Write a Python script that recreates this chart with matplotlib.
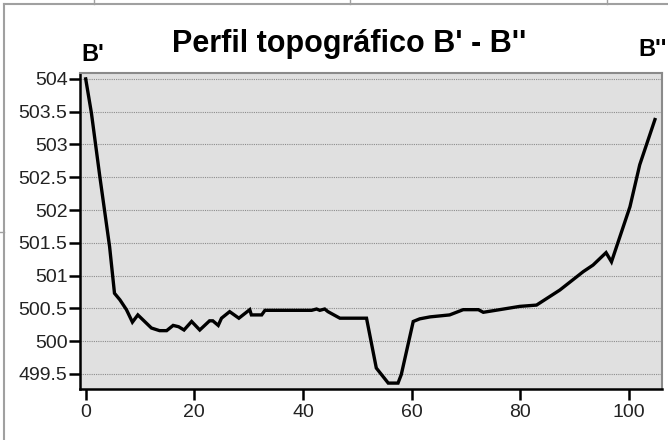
import matplotlib.pyplot as plt
from matplotlib.lines import Line2D

plt.rcParams['font.family'] = ['Liberation Sans', 'DejaVu Sans']

distancia = [0, 1.05, 2.6, 4.4, 5.3, 6.3, 7.5, 8.6, 9.6, 12.1, 13.6, 14.9, 16.1, 17.1,
             18.1, 19.5, 21.0, 22.8, 23.4, 24.4, 25.0, 26.5, 28.2, 30.2, 30.5, 32.4,
             33.0, 41.6, 42.5, 43.1, 44.0, 44.6, 46.8, 51.7, 53.5, 55.7, 57.5, 58.1,
             60.3, 61.5, 63.4, 67.0, 69.5, 72.3, 73.2, 76.2, 79.9, 83.0, 87.3, 91.6,
             93.4, 95.8, 96.8, 100.2, 102.0, 104.8]
cota = [504.0, 503.48, 502.51, 501.44, 500.73, 500.63, 500.48, 500.29, 500.40, 500.20,
        500.16, 500.16, 500.24, 500.22, 500.17, 500.30, 500.17, 500.31, 500.31, 500.24,
        500.35, 500.45, 500.35, 500.48, 500.40, 500.40, 500.47, 500.47, 500.49, 500.47,
        500.49, 500.45, 500.35, 500.35, 499.59, 499.36, 499.36, 499.49, 500.30, 500.34,
        500.37, 500.40, 500.48, 500.48, 500.44, 500.48, 500.53, 500.55, 500.78, 501.06,
        501.16, 501.35, 501.21, 502.05, 502.69, 503.38]

yticks = [499.5, 500, 500.5, 501, 501.5, 502, 502.5, 503, 503.5, 504]
ytick_labels = ['499.5', '500', '500.5', '501', '501.5', '502', '502.5', '503', '503.5', '504']
xticks = [0, 20, 40, 60, 80, 100]

W, H = 668, 440
fig = plt.figure(figsize=(W / 100, H / 100), dpi=100)
ax = fig.add_axes([80 / W, 1 - 389 / H, (662 - 80) / W, (389 - 73) / H])
ax.set_facecolor('#e0e0e0')

ax.plot(distancia, cota, color='black', linewidth=2.4, solid_joinstyle='miter')

ax.set_xlim(-1.05, 106.1)
ax.set_ylim(499.27, 504.09)
ax.set_xticks(xticks)
ax.set_yticks(yticks)
ax.set_yticklabels(ytick_labels)
ax.yaxis.grid(True, linestyle=(0, (1, 1)), color='#8c8c8c', linewidth=0.8)
ax.set_axisbelow(True)

ax.tick_params(axis='both', direction='out', length=8, width=1.8, color='black',
               labelsize=14, labelcolor='#222222', pad=1)
ax.tick_params(axis='x', pad=3)
for s in ['left', 'bottom']:
    ax.spines[s].set_linewidth(1.8)
    ax.spines[s].set_color('black')
for s in ['top', 'right']:
    ax.spines[s].set_linewidth(1.5)
    ax.spines[s].set_color('#8a8a8a')

fig.text(349 / W, 1 - 52 / H, "Perfil topográfico B' - B''", ha='center', va='baseline',
         fontsize=22, fontweight='bold')
fig.text(81 / W, 1 - 61 / H, "B'", ha='left', va='baseline', fontsize=17, fontweight='bold')
fig.text(667 / W, 1 - 56 / H, "B''", ha='right', va='baseline', fontsize=17, fontweight='bold')

# marco gris exterior
gris = '#a0a0a0'
fig.add_artist(Line2D([3.5 / W, 3.5 / W], [0, 1 - 4 / H], transform=fig.transFigure, color=gris, lw=1.5))
fig.add_artist(Line2D([3.5 / W, 1], [1 - 4 / H, 1 - 4 / H], transform=fig.transFigure, color=gris, lw=1.5))
for xv in [94, 350, 607]:
    fig.add_artist(Line2D([xv / W, xv / W], [1 - 4 / H, 1], transform=fig.transFigure, color=gris, lw=1))
fig.add_artist(Line2D([0, 3.5 / W], [1 - 232 / H, 1 - 232 / H], transform=fig.transFigure, color=gris, lw=1))

fig.savefig('out.png', dpi=100)
